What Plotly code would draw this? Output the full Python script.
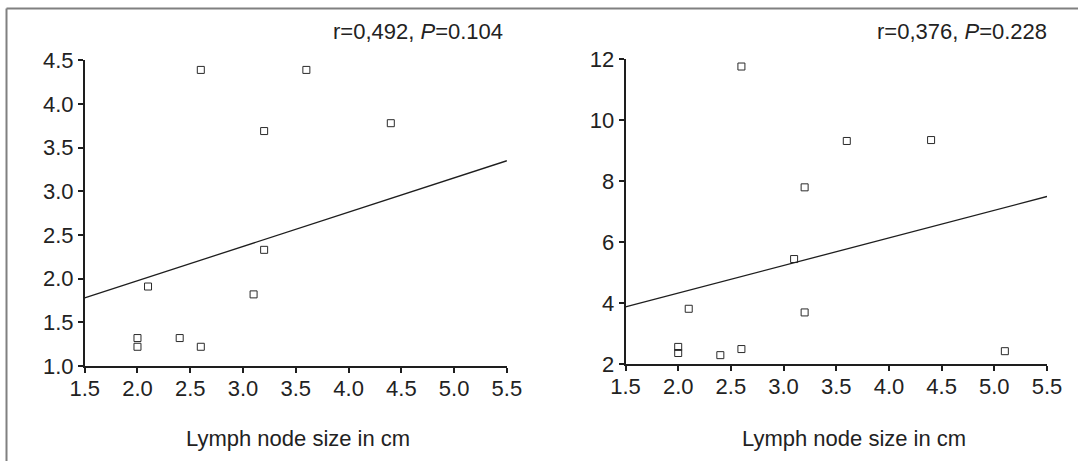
import plotly.graph_objects as go

# ---- data ----
left_x = [2.6, 3.6, 3.2, 4.4, 3.2, 2.1, 3.1, 2.0, 2.0, 2.4, 2.6]
left_y = [4.39, 4.39, 3.69, 3.78, 2.33, 1.91, 1.82, 1.32, 1.22, 1.32, 1.22]
left_fit_x = [1.5, 5.5]
left_fit_y = [1.78, 3.35]
left_label = "r=0,492, <i>P</i>=0.104"

right_x = [2.6, 3.6, 4.4, 3.2, 3.1, 2.1, 3.2, 2.0, 2.0, 2.4, 2.6, 5.1]
right_y = [11.76, 9.32, 9.35, 7.8, 5.45, 3.82, 3.7, 2.57, 2.37, 2.3, 2.5, 2.43]
right_fit_x = [1.5, 5.5]
right_fit_y = [3.88, 7.5]
right_label = "r=0,376, <i>P</i>=0.228"

x_title = "Lymph node size in cm"
x_ticks = [1.5, 2.0, 2.5, 3.0, 3.5, 4.0, 4.5, 5.0, 5.5]
left_y_ticks = [1.0, 1.5, 2.0, 2.5, 3.0, 3.5, 4.0, 4.5]
right_y_ticks = [2, 4, 6, 8, 10, 12]

W, H = 1078, 461
FONT = "Liberation Sans, Arial, sans-serif"
FS = 22
TXT = "#222222"
AX = "#1e1e1e"

def px(x):
    return x / W

def py(y):
    return 1 - y / H

fig = go.Figure()

marker = dict(symbol="square-open", size=7, color="#2a2a2a", line=dict(width=1))

fig.add_trace(go.Scatter(x=left_x, y=left_y, mode="markers", marker=marker,
                         xaxis="x", yaxis="y", showlegend=False, cliponaxis=False))
fig.add_trace(go.Scatter(x=left_fit_x, y=left_fit_y, mode="lines",
                         line=dict(color="#1e1e1e", width=1.3),
                         xaxis="x", yaxis="y", showlegend=False))
fig.add_trace(go.Scatter(x=right_x, y=right_y, mode="markers", marker=marker,
                         xaxis="x2", yaxis="y2", showlegend=False, cliponaxis=False))
fig.add_trace(go.Scatter(x=right_fit_x, y=right_fit_y, mode="lines",
                         line=dict(color="#1e1e1e", width=1.3),
                         xaxis="x2", yaxis="y2", showlegend=False))

axis_common = dict(showline=True, linecolor=AX, linewidth=1.5, ticks="outside",
                   ticklen=5, tickwidth=1.5, tickcolor=AX, showgrid=False,
                   zeroline=False, automargin=False,
                   tickfont=dict(family=FONT, size=FS, color=TXT),
                   fixedrange=True)

xaxis_extra = dict(ticklabelstandoff=-3)

fig.update_layout(
    template="none",
    width=W, height=H,
    margin=dict(l=0, r=0, t=0, b=0, pad=0),
    paper_bgcolor="white", plot_bgcolor="white",
    font=dict(family=FONT, color=TXT),
    xaxis=dict(domain=[px(84.7), px(506.9)], range=[1.5, 5.5], tickvals=x_ticks,
               ticktext=[f"{v:.1f}" for v in x_ticks], anchor="y",
               **axis_common, **xaxis_extra),
    yaxis=dict(domain=[py(366), py(60.3)], range=[1.0, 4.5], tickvals=left_y_ticks,
               ticktext=[f"{v:.1f}" for v in left_y_ticks], anchor="x", **axis_common),
    xaxis2=dict(domain=[px(625.5), px(1047)], range=[1.5, 5.5], tickvals=x_ticks,
                ticktext=[f"{v:.1f}" for v in x_ticks], anchor="y2",
                **axis_common, **xaxis_extra),
    yaxis2=dict(domain=[py(364.3), py(59.2)], range=[2, 12], tickvals=right_y_ticks,
                ticktext=[str(v) for v in right_y_ticks], anchor="x2", **axis_common),
)

# frame (left and top border)
fig.add_shape(type="line", xref="paper", yref="paper", x0=px(6.5), x1=px(6.5),
              y0=0, y1=py(8.5), line=dict(color="#808080", width=2))
fig.add_shape(type="line", xref="paper", yref="paper", x0=px(6.5), x1=1,
              y0=py(8.5), y1=py(8.5), line=dict(color="#808080", width=2))

for lbl, xr in [(left_label, 504.5), (right_label, 1048.7)]:
    fig.add_annotation(text=lbl, xref="paper", yref="paper", x=px(xr), y=py(32),
                       xanchor="right", yanchor="middle", showarrow=False,
                       font=dict(family=FONT, size=FS, color=TXT))

for xc in [297.9, 854]:
    fig.add_annotation(text=x_title, xref="paper", yref="paper", x=px(xc), y=py(438.7),
                       xanchor="center", yanchor="middle", showarrow=False,
                       font=dict(family=FONT, size=FS, color=TXT))

fig.write_html("out.html", config={"displayModeBar": False},
               post_script="document.body.style.margin='0';document.body.style.overflow='hidden';")
